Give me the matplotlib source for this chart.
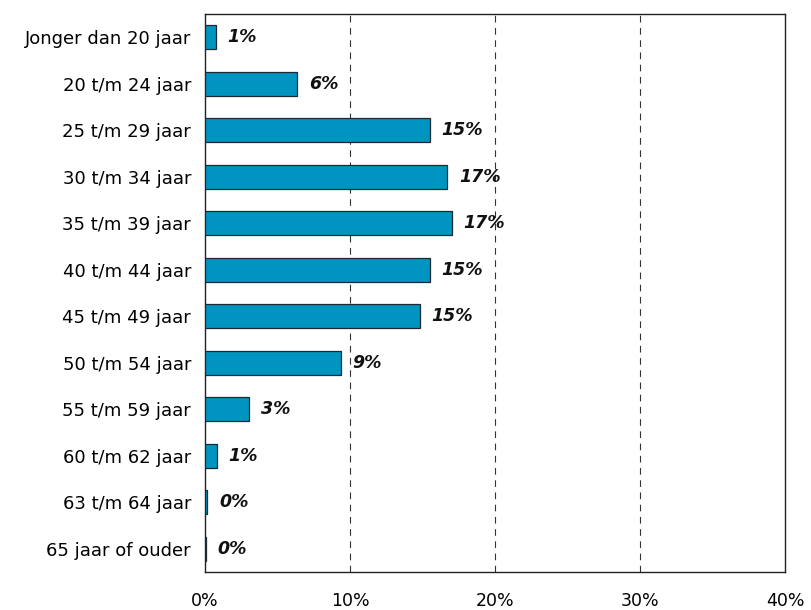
import numpy as np
import matplotlib.pyplot as plt

categories = ["Jonger dan 20 jaar", "20 t/m 24 jaar", "25 t/m 29 jaar", "30 t/m 34 jaar",
              "35 t/m 39 jaar", "40 t/m 44 jaar", "45 t/m 49 jaar", "50 t/m 54 jaar",
              "55 t/m 59 jaar", "60 t/m 62 jaar", "63 t/m 64 jaar", "65 jaar of ouder"]
values = [0.74, 6.37, 15.5, 16.7, 17.0, 15.5, 14.8, 9.36, 3.03, 0.8, 0.16, 0.07]
labels = ["1%", "6%", "15%", "17%", "17%", "15%", "15%", "9%", "3%", "1%", "0%", "0%"]
xticks = [0, 10, 20, 30, 40]

fig = plt.figure(figsize=(8.11, 6.10), dpi=100)
ax = fig.add_axes([205 / 811, 1 - 572 / 610, 580 / 811, 558 / 610])

y = np.arange(len(categories))
ax.barh(y, values, height=0.52, color="#0095c0", edgecolor="#1a2a30", linewidth=0.9, zorder=3)
for yi, v, lab in zip(y, values, labels):
    ax.text(v + 0.8, yi, lab, va="center", ha="left", fontsize=12.5,
            fontweight="bold", fontstyle="italic", color="#111111", zorder=4)

ax.set_xlim(0, 40)
ax.set_ylim(len(categories) - 0.5, -0.5)
ax.set_yticks(y)
ax.set_yticklabels(categories, fontsize=13)
ax.set_xticks(xticks)
ax.set_xticklabels([f"{t}%" for t in xticks], fontsize=12.5)
ax.tick_params(axis="both", length=0)
ax.tick_params(axis="x", pad=14.5)
ax.tick_params(axis="y", pad=10)
for t in [10, 20, 30]:
    ax.axvline(t, color="#333333", linestyle=(0, (6, 5)), linewidth=0.8, zorder=1)
for s in ax.spines.values():
    s.set_linewidth(1.0)
    s.set_color("#222222")

fig.savefig("out.png", dpi=100)
